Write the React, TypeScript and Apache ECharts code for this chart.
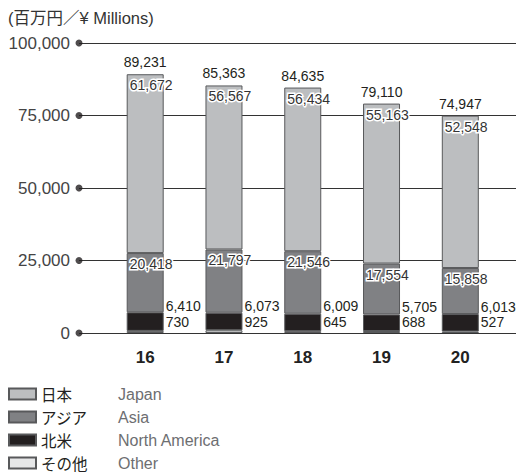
import React, { useEffect, useRef } from "react";
import * as echarts from "echarts";

const categories = ["16", "17", "18", "19", "20"];
const japan = [61672, 56567, 56434, 55163, 52548];
const asia = [20418, 21797, 21546, 17554, 15858];
const northAmerica = [6410, 6073, 6009, 5705, 6013];
const other = [730, 925, 645, 688, 527];
const totals = [89231, 85363, 84635, 79110, 74947];
const yTicks = [0, 25000, 50000, 75000, 100000];
const seriesNames = ["Japan", "Asia", "North America", "Other"];
const seriesNamesJp = ["日本", "アジア", "北米", "その他"];
const unitTitle = "(百万円／¥ Millions)";

const fmt = (v: number) => v.toLocaleString("en-US");
const FONT = "'Liberation Sans', Arial, 'Noto Sans CJK JP', sans-serif";

export default function App() {
  const ref = useRef<HTMLDivElement>(null);
  useEffect(() => {
    if (!ref.current) return;
    const chart = echarts.init(ref.current, undefined, { renderer: "svg" });
    const border = "#58595b";
    const insideLabel = {
      show: true,
      position: "insideTopLeft",
      distance: 4,
      offset: [-1, 0],
      fontSize: 14,
      fontFamily: FONT,
      color: "#333",
      textBorderColor: "#fff",
      textBorderWidth: 3,
      formatter: (p: any) => fmt(p.value),
    };
    const option: any = {
      animation: false,
      textStyle: { fontFamily: FONT },
      title: {
        text: unitTitle,
        left: 3,
        top: 5,
        textStyle: { fontSize: 16.5, fontWeight: "normal", color: "#333", fontFamily: FONT },
      },
      legend: {
        orient: "vertical",
        left: 8,
        top: 386,
        height: 140,
        padding: 0,
        itemWidth: 27,
        itemHeight: 11,
        itemGap: 7,
        icon: "rect",
        data: seriesNames,
        selectedMode: false,
        formatter: (name: string) => {
          const i = seriesNames.indexOf(name);
          return `{jp|${seriesNamesJp[i]}}{en|${name}}`;
        },
        textStyle: {
          rich: {
            jp: { width: 77, fontSize: 15.5, lineHeight: 18, color: "#231f20", fontFamily: "'Noto Sans CJK JP', sans-serif" },
            en: { fontSize: 16, lineHeight: 18, color: "#6d6e71", fontFamily: FONT },
          },
        },
      },
      grid: [
        { left: 79, right: 0, top: 43, height: 290 },
        { left: 105.8, right: 16.3, top: 43, height: 290 },
      ],
      xAxis: [
        { type: "value", gridIndex: 0, min: 0, max: 1, show: false },
        {
          type: "category",
          gridIndex: 1,
          data: categories,
          axisLine: { show: false },
          axisTick: { show: false },
          axisLabel: { fontSize: 17, fontWeight: "bold", color: "#222", margin: 16, fontFamily: FONT },
        },
      ],
      yAxis: [
        {
          type: "value",
          gridIndex: 0,
          min: 0,
          max: 100000,
          interval: 25000,
          axisLine: { show: false },
          axisTick: { show: false },
          axisLabel: { fontSize: 17, color: "#444", margin: 9, formatter: (v: number) => fmt(v), fontFamily: FONT },
          splitLine: { show: true, lineStyle: { color: "#333", width: 1 } },
        },
        { type: "value", gridIndex: 1, min: 0, max: 100000, show: false },
      ],
      series: [
        {
          type: "scatter",
          xAxisIndex: 0,
          yAxisIndex: 0,
          data: yTicks.map((v) => [0, v]),
          symbolSize: 7,
          clip: false,
          itemStyle: { color: "#231f20" },
          silent: true,
          z: 5,
        },
        {
          name: "Other",
          type: "bar",
          xAxisIndex: 1,
          yAxisIndex: 1,
          stack: "a",
          barWidth: 37,
          data: other,
          itemStyle: { color: "#e6e7e8", borderColor: border, borderWidth: 1 },
          label: {
            show: true,
            position: "right",
            distance: 2,
            offset: [0, -10],
            fontSize: 14,
            fontFamily: FONT,
            color: "#231f20",
            formatter: (p: any) => fmt(p.value),
          },
        },
        {
          name: "North America",
          type: "bar",
          xAxisIndex: 1,
          yAxisIndex: 1,
          stack: "a",
          barWidth: 37,
          data: northAmerica,
          itemStyle: { color: "#231f20", borderColor: border, borderWidth: 1 },
          label: {
            show: true,
            position: "right",
            distance: 2,
            offset: [0, -16],
            fontSize: 14,
            fontFamily: FONT,
            color: "#231f20",
            formatter: (p: any) => fmt(p.value),
          },
        },
        {
          name: "Asia",
          type: "bar",
          xAxisIndex: 1,
          yAxisIndex: 1,
          stack: "a",
          barWidth: 37,
          data: asia,
          itemStyle: { color: "#808184", borderColor: border, borderWidth: 1 },
          label: insideLabel,
        },
        {
          name: "Japan",
          type: "bar",
          xAxisIndex: 1,
          yAxisIndex: 1,
          stack: "a",
          barWidth: 37,
          data: japan,
          itemStyle: { color: "#bcbec0", borderColor: border, borderWidth: 1 },
          label: insideLabel,
        },
        {
          name: "Total",
          type: "bar",
          xAxisIndex: 1,
          yAxisIndex: 1,
          barWidth: 37,
          barGap: "-100%",
          data: totals,
          silent: true,
          z: 1,
          itemStyle: { color: "rgba(0,0,0,0)" },
          label: {
            show: true,
            position: "top",
            distance: 5,
            fontSize: 14,
            fontFamily: FONT,
            color: "#231f20",
            formatter: (p: any) => fmt(p.value),
          },
        },
      ],
    };
    chart.setOption(option);
    return () => chart.dispose();
  }, []);
  return (
    <div
      ref={ref}
      style={{ position: "fixed", left: 0, top: 0, width: 516, height: 474, background: "#fff" }}
    />
  );
}
